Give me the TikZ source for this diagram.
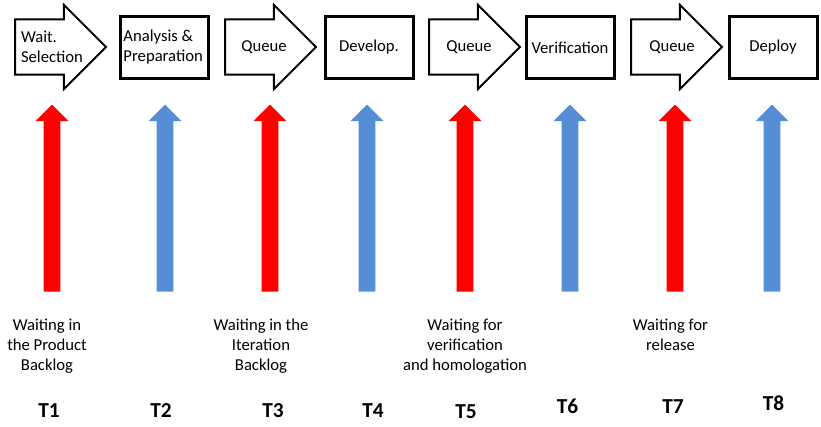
\documentclass[tikz,border=0pt]{standalone}
\usepackage{fontspec}
\setmainfont{Carlito}
\usepackage{tikz}
\usetikzlibrary{shapes,arrows,positioning}
\definecolor{waitred}{RGB}{255,0,0}
\definecolor{workblue}{RGB}{85,142,213}

\begin{document}
\begin{tikzpicture}[x=0.75pt, y=-0.75pt,
  stage/.style={rectangle, draw, line width=2.25pt, minimum width=66pt, minimum height=46.5pt, inner sep=0pt},
  queue/.style={single arrow, anchor=tail, draw, line width=1.5pt, minimum height=68.25pt, inner xsep=0pt, inner ysep=19.9pt, single arrow head extend=10.9pt},
  txt/.style={align=left, inner sep=0pt, font=\fontsize{12.5}{15}\selectfont},
  upwait/.style={single arrow, anchor=tail, rotate=90, fill=waitred, draw=none, minimum height=140.25pt, inner xsep=0pt, inner ysep=6pt, single arrow head extend=6pt},
  upwork/.style={upwait, fill=workblue},
  note/.style={align=center, inner sep=0pt, anchor=north, font=\fontsize{12.5}{15}\selectfont},
  tlabel/.style={inner sep=0pt, anchor=base, font=\fontsize{16}{19}\selectfont\bfseries}]
\useasboundingbox (0,0) rectangle (821,426);
% process steps
\node[queue] (q1) at (14,47) {};
\node[stage] (ana) at (164.5,47.5) {};
\node[queue] (q2) at (224,47) {};
\node[stage] (dev) at (369,47.5) {};
\node[queue] (q3) at (428,47) {};
\node[stage] (ver) at (570,47.5) {};
\node[queue] (q4) at (630,47) {};
\node[stage] (dep) at (773,47.5) {};
\node[txt] at (52,47) {Wait.\\Selection};
\node[txt] at ([xshift=-1pt]ana.center) {Analysis \&\\Preparation};
\node[txt] at (264,47) {Queue};
\node[txt] at (dev.center) {Develop.};
\node[txt] at (469,47) {Queue};
\node[txt] at (ver.center) {Verification};
\node[txt] at (672,47) {Queue};
\node[txt] at (dep.center) {Deploy};
% time arrows
\node[upwait] (t1) at (52,292) {};
\node[upwork] (t2) at (165,292) {};
\node[upwait] (t3) at (270,292) {};
\node[upwork] (t4) at (367,292) {};
\node[upwait] (t5) at (465,292) {};
\node[upwork] (t6) at (570,292) {};
\node[upwait] (t7) at (675,292) {};
\node[upwork] (t8) at (772,292) {};
% descriptions
\node[note] (n1) at (47,319) {Waiting in\\the Product\\Backlog};
\node[note] (n3) at (261,319) {Waiting in the\\Iteration\\Backlog};
\node[note] (n5) at (465,319) {Waiting for\\verification\\and homologation};
\node[note] (n7) at (670.5,319) {Waiting for\\release};
\node[tlabel] (l1) at (49,417) {T1};
\node[tlabel] (l2) at (161,417) {T2};
\node[tlabel] (l3) at (273,417) {T3};
\node[tlabel] (l4) at (373,417) {T4};
\node[tlabel] (l5) at (466,418) {T5};
\node[tlabel] (l6) at (567.5,413) {T6};
\node[tlabel] (l7) at (673,413) {T7};
\node[tlabel] (l8) at (773.5,410) {T8};
\end{tikzpicture}
\end{document}
